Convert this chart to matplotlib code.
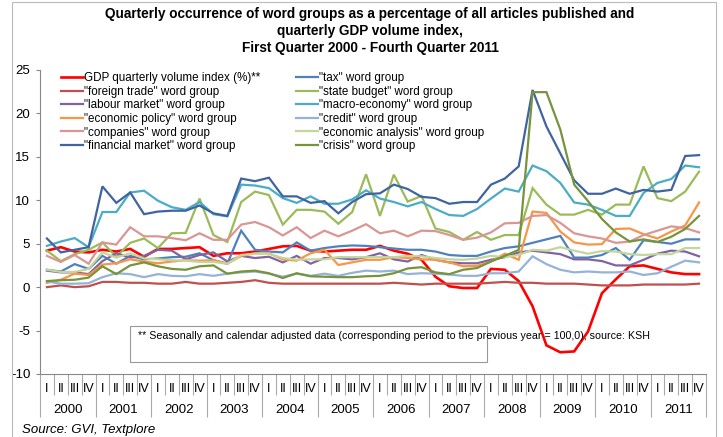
import matplotlib
matplotlib.use("Agg")
import matplotlib.pyplot as plt
import matplotlib.transforms as mtransforms
from matplotlib.patches import Rectangle
import numpy as np

plt.rcParams['font.family'] = ['Liberation Sans', 'DejaVu Sans']
plt.rcParams['axes.unicode_minus'] = False

years = [str(y) for y in range(2000, 2012)]
quarters = ["I", "II", "III", "IV"]

gdp = [4.2, 4.6, 4.1, 4.0, 4.3, 4.1, 4.4, 3.5, 4.4, 4.4, 4.5, 4.6,
       3.6, 3.9, 3.9, 4.1, 4.4, 4.7, 4.75, 4.2, 4.1, 4.2, 4.3, 4.3,
       4.75, 4.2, 3.85, 3.15, 1.2, 0.1, -0.1, -0.1, 2.1, 2.0, 0.7, -2.2,
       -6.7, -7.5, -7.4, -5.1, -0.7, 0.9, 2.4, 2.5, 2.1, 1.7, 1.5, 1.5]
tax = [2.0, 1.8, 2.65, 2.1, 3.6, 2.7, 3.6, 3.2, 3.3, 3.45, 3.5, 3.9,
       3.1, 2.7, 6.5, 4.3, 4.1, 4.0, 5.15, 4.2, 4.5, 4.7, 4.8, 4.75,
       4.6, 4.45, 4.3, 4.3, 4.1, 3.7, 3.6, 3.6, 4.1, 4.5, 4.7, 5.1,
       5.5, 5.9, 3.4, 3.4, 3.7, 4.5, 3.15, 5.4, 5.2, 5.0, 5.5, 5.5]
foreign_trade = [0.0, 0.2, 0.0, 0.1, 0.6, 0.6, 0.5, 0.5, 0.4, 0.4, 0.6, 0.4,
                 0.4, 0.5, 0.6, 0.8, 0.5, 0.4, 0.4, 0.4, 0.4, 0.4, 0.4, 0.4,
                 0.4, 0.5, 0.4, 0.3, 0.4, 0.4, 0.4, 0.4, 0.5, 0.6, 0.5, 0.5,
                 0.4, 0.4, 0.4, 0.3, 0.2, 0.2, 0.2, 0.3, 0.3, 0.3, 0.3, 0.4]
state_budget = [4.2, 3.0, 3.8, 4.3, 5.15, 3.5, 5.1, 5.6, 4.5, 6.2, 6.25, 10.2,
                6.0, 5.2, 9.8, 11.0, 10.6, 7.2, 8.9, 8.9, 8.7, 7.3, 8.65, 13.0,
                8.2, 12.95, 9.85, 10.5, 6.75, 6.35, 5.45, 6.35, 5.45, 6.0, 6.0, 11.4,
                9.5, 8.35, 8.35, 8.9, 8.35, 9.5, 9.5, 13.9, 10.25, 9.9, 11.0, 13.3]
labour_market = [1.9, 1.7, 1.7, 1.5, 3.0, 3.9, 3.4, 3.6, 4.3, 4.2, 3.2, 3.7,
                 4.0, 2.95, 3.6, 3.35, 3.5, 2.85, 3.6, 2.7, 3.35, 3.35, 3.2, 3.45,
                 3.9, 3.2, 2.95, 3.7, 3.15, 2.85, 2.75, 2.75, 3.15, 3.45, 4.0, 4.2,
                 4.0, 3.8, 3.2, 3.2, 3.0, 2.5, 2.5, 3.15, 3.85, 4.2, 4.1, 3.55]
macro_economy = [4.75, 5.25, 5.65, 4.6, 8.65, 8.65, 10.9, 11.1, 9.95, 9.2, 8.9, 9.8,
                 8.4, 8.15, 11.8, 11.7, 11.4, 10.25, 9.7, 10.45, 9.6, 9.6, 10.1, 11.15,
                 10.2, 9.8, 9.3, 9.8, 9.0, 8.3, 8.2, 9.0, 10.2, 11.35, 11.0, 14.0,
                 13.35, 12.0, 9.75, 9.5, 8.9, 8.2, 8.2, 10.85, 12.0, 12.45, 14.0, 13.8]
economic_policy = [0.5, 0.85, 1.55, 1.4, 2.6, 2.75, 3.2, 2.95, 2.75, 2.95, 3.1, 3.05,
                   3.1, 2.7, 3.6, 3.9, 3.9, 3.2, 3.05, 3.9, 4.3, 2.55, 2.85, 3.15,
                   3.15, 3.45, 3.35, 3.2, 3.15, 2.85, 2.4, 2.45, 2.95, 3.85, 3.15, 8.7,
                   8.55, 6.4, 5.15, 4.9, 4.95, 6.7, 6.75, 6.1, 5.6, 6.4, 7.1, 9.75]
credit = [0.65, 0.4, 0.4, 0.45, 1.15, 1.6, 1.5, 1.15, 1.5, 1.3, 1.25, 1.5,
          1.3, 1.55, 1.7, 1.8, 1.55, 1.2, 1.55, 1.3, 1.55, 1.3, 1.65, 1.9,
          1.8, 1.9, 1.5, 1.6, 1.55, 1.45, 1.3, 1.3, 1.6, 1.6, 1.8, 3.55,
          2.65, 2.0, 1.7, 1.8, 1.7, 1.7, 1.8, 1.4, 1.6, 2.35, 3.05, 2.85]
companies = [3.6, 2.9, 3.7, 2.7, 5.15, 4.9, 6.9, 5.85, 5.85, 5.65, 5.4, 6.2,
             5.45, 5.45, 7.2, 7.5, 6.9, 5.95, 6.9, 5.65, 6.5, 5.85, 6.5, 7.25,
             6.2, 6.5, 5.85, 6.5, 6.45, 6.0, 5.45, 5.7, 6.3, 7.35, 7.4, 8.2,
             8.3, 7.4, 6.2, 5.85, 5.6, 5.1, 5.25, 6.0, 6.5, 7.0, 6.8, 6.3]
economic_analysis = [2.0, 1.75, 1.75, 2.1, 4.0, 3.4, 3.9, 3.3, 3.2, 3.1, 3.05, 2.9,
                     2.9, 2.7, 3.7, 3.85, 3.85, 3.35, 3.15, 3.2, 3.2, 3.45, 3.45, 3.45,
                     3.45, 3.45, 3.6, 3.55, 3.35, 3.2, 3.15, 3.3, 3.6, 3.45, 3.7, 4.3,
                     4.2, 4.6, 4.2, 3.85, 4.15, 4.1, 3.8, 3.7, 3.8, 3.8, 4.5, 4.5]
financial_market = [5.6, 4.0, 4.3, 4.6, 11.6, 9.7, 10.9, 8.4, 8.7, 8.8, 8.8, 9.4,
                    8.5, 8.2, 12.5, 12.2, 12.6, 10.45, 10.45, 9.7, 9.9, 8.5, 9.8, 10.7,
                    10.8, 11.8, 11.3, 10.4, 10.25, 9.6, 9.8, 9.8, 11.8, 12.5, 13.9, 22.7,
                    18.5, 15.4, 12.3, 10.75, 10.75, 11.35, 10.75, 11.2, 11.0, 11.2, 15.1, 15.2]
crisis = [0.7, 0.8, 0.85, 1.1, 2.4, 1.5, 2.5, 2.85, 2.4, 2.1, 2.0, 2.4,
          2.5, 1.55, 1.8, 1.9, 1.6, 1.05, 1.6, 1.25, 1.2, 1.15, 1.15, 1.25,
          1.3, 1.6, 2.15, 2.3, 1.7, 1.5, 2.0, 2.2, 2.95, 3.6, 4.3, 22.45,
          22.45, 18.15, 11.8, 9.9, 7.85, 6.3, 5.25, 5.5, 5.2, 5.8, 6.7, 8.2]

# drawing order, later series on top
series = [
    ("GDP quarterly volume index (%)**", gdp, "#FF0000"),
    ('"tax" word group', tax, "#4F81BD"),
    ('"foreign trade" word group', foreign_trade, "#C0504D"),
    ('"state budget" word group', state_budget, "#9BBB59"),
    ('"labour market" word group', labour_market, "#8064A2"),
    ('"macro-economy" word group', macro_economy, "#4BACC6"),
    ('"economic policy" word group', economic_policy, "#F79646"),
    ('"credit" word group', credit, "#95B3D7"),
    ('"companies" word group', companies, "#D99694"),
    ('"economic analysis" word group', economic_analysis, "#C3D69B"),
    ('"financial market" word group', financial_market, "#3F64A0"),
    ('"crisis" word group', crisis, "#77933C"),
]

W, H = 723, 437
fig = plt.figure(figsize=(W / 100, H / 100), dpi=100)
ax = fig.add_axes([40 / W, (H - 374) / H, 666 / W, 304 / H])

x = np.arange(len(gdp))
handles = {}
for label, vals, col in series:
    lw = 1.9 if col == "#FF0000" else 1.6
    ln, = ax.plot(x, vals, color=col, lw=lw, solid_joinstyle="miter")
    handles[label] = ln

ax.set_xlim(-0.5, len(gdp) - 0.5)
ax.set_ylim(-10, 25)
ax.set_yticks(np.arange(-10, 26, 5))
ax.tick_params(axis="y", length=3, width=0.8, color="#888888", pad=4, labelsize=9.5)

for side in ["top", "right"]:
    ax.spines[side].set_visible(False)
for side in ["left", "bottom"]:
    ax.spines[side].set_color("#888888")
    ax.spines[side].set_linewidth(0.8)

# quarter and year separators below the axis
ax.set_xticks(np.arange(-0.5, len(gdp), 4))
ax.set_xticks(np.arange(-0.5, len(gdp), 1), minor=True)
ax.set_xticklabels([])
ax.tick_params(axis="x", which="major", length=31, width=0.8, color="#AAAAAA")
ax.tick_params(axis="x", which="minor", length=15, width=0.8, color="#AAAAAA")

tr = mtransforms.blended_transform_factory(ax.transData, ax.transAxes)
for i in range(len(gdp)):
    ax.text(i, -15 / 304, quarters[i % 4], transform=tr, ha="center", va="center",
            fontsize=9)
for k, yr in enumerate(years):
    ax.text(4 * k + 1.5, -36 / 304, yr, transform=tr, ha="center", va="center",
            fontsize=9.5)

# legend, two columns
col1 = [s[0] for s in series[0::2]]
col2 = [s[0] for s in series[1::2]]
order = col1 + col2
ax.legend([handles[l] for l in order], order, loc="upper left", ncol=2,
          bbox_to_anchor=(61 / W, (H - 72) / H), bbox_transform=fig.transFigure,
          frameon=False, fontsize=8.4, handlelength=1.9, handletextpad=0.1,
          labelspacing=0.14, columnspacing=3.0, borderpad=0, borderaxespad=0)

# footnote box
fig.patches.append(Rectangle((130 / W, (H - 362) / H), 357 / W, 36 / H,
                             transform=fig.transFigure, fill=False,
                             edgecolor="#999999", lw=0.8))
fig.text(138 / W, (H - 336) / H,
         "** Seasonally and calendar adjusted data (corresponding period to the previous year = 100,0), source: KSH",
         fontsize=7.7, va="center", ha="left")

fig.text(370 / W, (H - 31) / H,
         "Quarterly occurrence of word groups as a percentage of all articles published and\n"
         "quarterly GDP volume index,\nFirst Quarter 2000 - Fourth Quarter 2011",
         ha="center", va="center", fontsize=9.8, fontweight="bold", linespacing=1.3)

fig.text(22 / W, (H - 430) / H, "Source: GVI, Textplore", style="italic",
         fontsize=9.5, va="center", ha="left")

# chart border
fig.patches.append(Rectangle((12 / W, -0.01), 704 / W, (H - 2) / H + 0.01,
                             transform=fig.transFigure, fill=False,
                             edgecolor="#BBBBBB", lw=0.8))

fig.savefig("out.png", dpi=100)
